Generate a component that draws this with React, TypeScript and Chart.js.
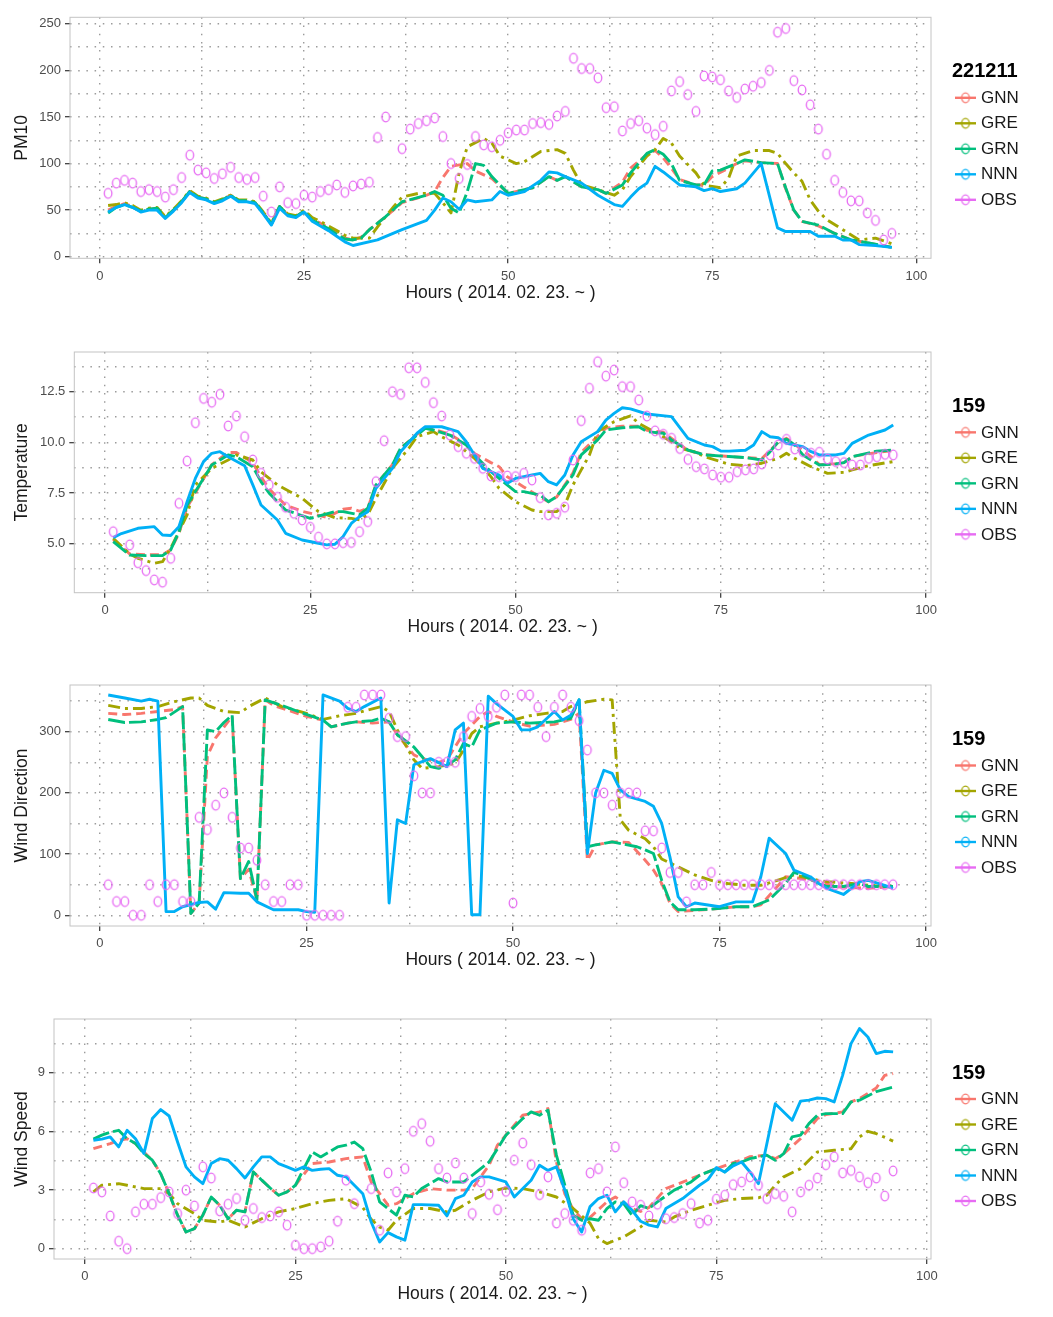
import React, { useEffect, useRef } from 'react';
import { Chart, registerables } from 'chart.js';
Chart.register(...registerables);

type Pt = [number, number];

const SERIES = ['GNN', 'GRE', 'GRN', 'NNN', 'OBS'];
const COLORS = ['#F8766D', '#A3A500', '#00BF7D', '#00B0F6', '#E76BF3'];
const DASHES = [[9, 5], [12, 5, 3, 5], [17, 4], []];
const X_TICKS = [0, 25, 50, 75, 100];
const X_TITLE = 'Hours ( 2014. 02. 23. ~ )';
const Y_TITLES = ['PM10', 'Temperature', 'Wind Direction', 'Wind Speed'];
const LEGEND_TITLES = ['221211', '159', '159', '159'];
const PM10_TICKS = [0, 50, 100, 150, 200, 250];
const TEMP_TICKS = [5, 7.5, 10, 12.5];
const WD_TICKS = [0, 100, 200, 300];
const WS_TICKS = [0, 3, 6, 9];

// ---------- PM10 ----------
const PM10_OBS = [68,79,82,79,70,72,70,64,72,85,109,93,90,84,89,96,85,83,85,65,48,75,58,57,66,64,70,72,77,69,76,78,80,128,150,null,116,137,143,146,149,129,100,84,99,129,120,118,125,133,136,136,143,144,142,151,156,213,202,202,192,160,161,135,143,146,138,131,140,178,188,174,156,194,193,190,178,171,180,183,187,200,241,245,189,179,163,137,110,82,69,60,60,47,39,18,25];
const PM10_GNN: Pt[] = [[1,50],[2,54],[3,57],[4,54],[5,49],[6,51],[7,52],[8,42],[9,50],[10,59],[11,70],[12,64],[13,62],[14,58],[15,61],[16,66],[17,60],[18,60],[19,58],[20,47],[21,35],[22,54],[23,45],[24,43],[25,49],[26,40],[27,36],[28,31],[29,25],[30,20],[31,18],[32,21],[33,29],[35,43],[37,58],[40,66],[41,70],[42,85],[43,97],[45,100],[46,92],[48,84],[50,68],[52,72],[53,74],[55,86],[56,82],[57,86],[59,75],[61,72],[62,68],[64,80],[65,95],[67,110],[68,114],[69,106],[70,95],[71,83],[73,77],[74,77],[75,86],[77,95],[78,100],[79,103],[81,101],[83,100],[84,73],[85,50],[86,38],[88,33],[90,25],[92,18],[94,15],[97,10]];
const PM10_GRE: Pt[] = [[1,55],[2,56],[3,58],[4,55],[5,50],[6,52],[7,53],[8,43],[9,51],[10,60],[11,71],[12,65],[13,63],[14,59],[15,62],[16,66],[17,61],[18,61],[19,59],[20,48],[21,36],[22,54],[23,46],[24,44],[25,50],[26,42],[27,38],[28,33],[29,28],[30,23],[31,20],[33,20],[34,32],[36,54],[37,64],[39,68],[41,68],[42,58],[43,47],[44,90],[45,118],[47,127],[48,122],[49,108],[51,100],[52,102],[54,113],[56,115],[57,111],[58,93],[59,77],[61,72],[63,66],[64,72],[65,86],[67,108],[68,115],[69,127],[70,122],[71,108],[73,90],[74,77],[76,74],[77,84],[78,108],[80,114],[82,114],[83,111],[84,100],[85,90],[86,81],[87,61],[88,49],[89,40],[91,29],[93,18],[95,20],[97,14]];
const PM10_GRN: Pt[] = [[1,47],[2,53],[3,56],[4,53],[5,49],[6,51],[7,52],[8,42],[9,50],[10,59],[11,70],[12,64],[13,62],[14,58],[15,61],[16,66],[17,60],[18,60],[19,58],[20,47],[21,35],[22,54],[23,45],[24,43],[25,49],[26,39],[27,35],[28,30],[29,24],[30,19],[31,18],[32,20],[33,29],[35,43],[37,59],[40,66],[41,70],[42,66],[43,52],[44,47],[45,70],[46,100],[47,98],[48,86],[49,77],[50,68],[52,72],[53,74],[55,86],[56,82],[57,86],[59,75],[61,72],[62,68],[64,77],[65,90],[67,111],[68,115],[69,110],[70,100],[71,82],[73,77],[74,77],[75,92],[76,93],[78,100],[79,104],[81,101],[83,100],[84,74],[85,50],[86,38],[88,34],[90,25],[92,18],[94,15],[97,10]];
const PM10_NNN: Pt[] = [[1,48],[2,53],[3,56],[4,53],[5,48],[6,50],[7,50],[8,41],[9,49],[10,58],[11,69],[12,63],[13,61],[14,57],[15,60],[16,65],[17,59],[18,59],[19,57],[20,46],[21,34],[22,52],[23,44],[24,42],[25,48],[26,38],[27,33],[28,28],[29,22],[30,16],[31,12],[34,18],[37,29],[40,39],[41,50],[42,63],[43,59],[44,51],[45,61],[46,59],[48,61],[49,70],[50,66],[52,70],[54,82],[55,91],[56,90],[57,86],[59,79],[61,66],[63,56],[64,54],[65,64],[66,73],[67,79],[68,97],[69,91],[71,77],[73,75],[74,71],[75,73],[76,70],[78,73],[79,79],[81,100],[83,31],[84,27],[87,27],[88,22],[90,22],[91,18],[92,18],[93,13],[95,12],[97,10]];

// ---------- Temperature ----------
const TEMP_OBS = [5.59,null,4.94,4.06,3.67,3.21,3.1,4.28,6.99,9.08,10.97,12.17,11.98,12.37,10.81,11.3,10.28,9.13,8.47,7.9,7.29,6.8,6.5,6.17,5.81,5.32,4.99,4.99,5.05,5.06,5.59,6.09,8.06,10.08,12.5,12.37,13.68,13.68,12.96,11.96,11.3,10.36,9.79,9.46,9.21,8.72,8.34,8.31,8.34,8.31,8.47,8.14,7.27,6.42,6.5,6.8,9.13,11.07,12.67,13.98,13.27,13.57,12.75,12.75,12.09,11.3,10.57,10.4,10.2,9.7,9.16,8.8,8.69,8.39,8.28,8.28,8.55,8.64,8.69,8.93,9.38,9.87,10.15,9.67,9.54,9.46,9.51,9.18,9.05,9.0,8.88,8.88,9.21,9.29,9.41,9.38];
const TEMP_GNN: Pt[] = [[1,5.2],[3,4.5],[5,4.45],[7,4.45],[8,4.7],[9,5.5],[10,6.8],[12,8.2],[13,8.9],[15,9.5],[16,9.5],[18,9.0],[19,8.3],[20,7.7],[21,7.3],[22,6.9],[24,6.6],[26,6.4],[27,6.3],[29,6.7],[30,6.75],[31,6.6],[32,6.75],[33,7.9],[35,8.9],[36,9.7],[38,10.4],[39,10.7],[40,10.65],[42,10.4],[44,9.9],[45,9.45],[47,9.0],[48,8.8],[49,8.3],[51,7.8],[53,7.3],[54,7.07],[55,7.3],[57,8.5],[58,9.5],[60,10.3],[61,10.7],[63,10.8],[65,10.8],[66,10.6],[68,10.5],[69,10.2],[70,9.9],[71,9.6],[73,9.4],[76,9.3],[78,9.25],[80,9.2],[81,9.6],[82,10.0],[83,10.2],[84,9.9],[86,9.3],[87,8.9],[89,8.95],[90,9.0],[91,9.3],[94,9.5],[96,9.6]];
const TEMP_GRE: Pt[] = [[1,5.27],[3,4.5],[4,4.28],[6,4.03],[7,4.11],[8,4.77],[10,6.42],[11,7.9],[13,8.72],[15,9.13],[16,9.38],[18,9.13],[19,8.55],[21,7.9],[24,7.24],[26,6.58],[28,6.28],[30,6.25],[31,6.17],[32,6.42],[33,7.24],[35,8.72],[37,9.71],[38,10.28],[40,10.53],[41,10.28],[43,9.87],[45,9.21],[47,8.31],[48,7.73],[50,7.07],[52,6.66],[53,6.58],[55,6.58],[56,6.91],[57,7.9],[59,9.38],[60,10.53],[62,11.02],[64,11.31],[65,10.94],[67,10.5],[69,10.03],[70,9.71],[72,9.51],[73,9.29],[76,8.92],[78,8.85],[80,8.97],[82,9.21],[83,9.46],[84,9.21],[86,8.8],[88,8.47],[90,8.52],[91,8.64],[93,8.85],[96,9.05]];
const TEMP_GRN: Pt[] = [[1,5.1],[3,4.44],[5,4.41],[7,4.41],[8,4.69],[9,5.59],[10,6.91],[12,8.22],[13,8.88],[15,9.38],[16,9.29],[18,8.8],[19,8.06],[20,7.49],[21,7.07],[22,6.66],[25,6.25],[28,6.58],[29,6.58],[31,6.42],[32,6.75],[33,7.9],[35,8.88],[36,9.71],[38,10.36],[39,10.69],[40,10.61],[42,10.36],[44,9.87],[45,9.38],[47,8.55],[48,8.22],[50,7.57],[51,7.57],[53,7.4],[54,7.07],[55,7.32],[57,8.39],[58,9.38],[60,10.12],[61,10.61],[63,10.72],[65,10.77],[66,10.53],[68,10.45],[69,10.12],[70,9.87],[71,9.62],[73,9.38],[76,9.3],[78,9.25],[80,9.13],[81,9.54],[82,10.03],[83,10.16],[84,9.87],[85,9.38],[87,8.88],[89,8.93],[90,9.0],[91,9.29],[94,9.57],[96,9.62]];
const TEMP_NNN: Pt[] = [[1,5.3],[2,5.5],[4,5.76],[6,5.84],[7,5.43],[8,5.4],[9,5.84],[10,7.07],[11,8.22],[12,9.05],[13,9.46],[14,9.54],[15,9.29],[17,8.85],[18,7.9],[19,6.91],[21,6.17],[22,5.51],[24,5.18],[26,5.02],[27,4.94],[28,4.97],[29,5.35],[30,6.0],[31,6.33],[32,6.58],[33,7.73],[35,8.72],[36,9.54],[38,10.45],[39,10.77],[41,10.77],[43,10.53],[44,10.03],[45,9.38],[46,8.72],[48,8.39],[49,7.98],[50,8.22],[52,8.39],[53,8.47],[54,8.06],[55,7.9],[56,8.39],[57,9.38],[58,10.03],[60,10.53],[61,11.1],[62,11.43],[63,11.71],[64,11.65],[66,11.4],[69,11.27],[71,10.2],[73,9.87],[74,9.79],[75,9.57],[76,9.57],[78,9.61],[79,9.87],[80,10.53],[81,10.28],[82,10.23],[83,9.95],[85,9.79],[86,9.54],[87,9.38],[89,9.38],[90,9.46],[91,9.95],[93,10.36],[95,10.61],[96,10.86]];

// ---------- Wind Direction ----------
const WD_OBS = [50,22.5,22.5,0,0,50,22.5,50,50,22.5,22.5,160,140,180,200,160,110,110,90,50,22.5,22.5,50,50,0,0,0,0,0,340,340,360,360,360,322,292,292,228,200,200,250,250,250,292,325,338,325,340,360,20,360,360,340,292,340,360,340,318,270,200,200,180,200,200,200,138,138,110,70,70,22,50,50,70,50,50,50,50,50,50,50,50,50,50,50,50,50,50,50,50,50,50,50,50,50,50];
const WD_GNN: Pt[] = [[1,330],[3,328],[5,330],[7,333],[9,336],[10,341],[11,3],[12,20],[13,260],[14,290],[16,325],[17,60],[18,75],[19,25],[20,352],[21,343],[23,334],[25,325],[27,319],[28,308],[30,314],[31,316],[33,314],[35,316],[36,295],[38,262],[39,256],[41,250],[42,254],[44,297],[46,325],[47,333],[48,325],[50,316],[52,309],[55,312],[57,320],[58,330],[59,90],[60,115],[62,120],[64,119],[66,90],[67,74],[68,52],[69,20],[70,6],[72,8],[74,10],[77,14],[79,14],[80,17],[82,47],[83,63],[85,60],[87,55],[89,47],[93,44],[96,47]];
const WD_GRE: Pt[] = [[1,343],[3,338],[5,338],[7,341],[9,349],[11,355],[12,355],[13,343],[15,333],[17,331],[18,341],[20,355],[22,341],[25,330],[27,320],[29,326],[31,330],[32,334],[34,341],[35,333],[36,303],[37,278],[38,254],[39,240],[41,243],[43,248],[44,270],[45,297],[46,308],[48,314],[50,319],[52,326],[54,330],[56,333],[57,341],[59,349],[61,353],[62,352],[63,156],[64,139],[66,125],[67,112],[68,92],[70,79],[72,66],[74,57],[76,52],[78,49],[80,49],[82,57],[84,66],[85,63],[87,57],[88,55],[91,52],[93,49],[95,47],[96,47]];
const WD_GRN: Pt[] = [[1,320],[3,315],[5,316],[7,320],[8,323],[10,341],[11,3],[12,20],[13,303],[14,300],[15,315],[16,327],[17,60],[18,88],[19,25],[20,352],[22,343],[24,333],[27,319],[28,308],[30,314],[31,316],[33,318],[34,322],[35,316],[36,295],[38,275],[39,259],[40,243],[41,240],[42,245],[43,254],[44,281],[45,275],[46,303],[48,314],[50,316],[52,314],[55,316],[57,322],[58,352],[59,112],[60,115],[62,120],[65,112],[66,107],[67,101],[68,57],[69,22],[70,9],[72,9],[74,10],[77,14],[79,14],[81,25],[83,52],[84,70],[85,66],[87,52],[88,47],[90,47],[92,52],[93,47],[96,47]];
const WD_NNN: Pt[] = [[1,360],[3,355],[5,350],[6,353],[7,350],[8,6],[9,6],[10,14],[12,21],[13,22],[14,10],[15,37],[17,36],[18,36],[19,22],[21,9],[23,9],[24,9],[25,6],[26,5],[27,360],[29,350],[30,338],[31,333],[32,341],[34,355],[35,20],[36,156],[37,150],[38,246],[39,251],[40,256],[42,243],[43,303],[44,314],[45,1],[46,1],[47,358],[48,346],[50,325],[51,303],[52,303],[53,308],[55,333],[56,319],[57,327],[58,352],[59,101],[60,200],[61,237],[62,232],[63,205],[64,194],[66,186],[67,178],[68,150],[69,95],[70,30],[71,14],[72,20],[75,14],[77,22],[79,22],[80,63],[81,126],[83,101],[84,74],[86,63],[87,52],[88,44],[90,34],[92,55],[93,57],[95,49],[96,44]];

// ---------- Wind Speed ----------
const WS_OBS = [3.1,2.9,1.67,0.38,0,1.88,2.27,2.27,2.61,2.9,1.79,2.99,2.18,4.18,3.61,1.93,2.27,2.56,1.45,2.05,1.59,1.67,1.88,1.2,0.17,0,0,0.09,0.38,1.4,3.5,2.3,null,3.07,0.94,3.87,2.9,4.09,6.0,6.39,5.49,4.09,3.61,4.38,3.61,1.79,3.41,2.78,1.99,2.93,4.52,5.4,4.29,2.76,3.67,1.31,1.79,1.45,0.94,3.87,4.09,2.9,5.2,3.37,2.39,2.22,1.67,2.27,1.53,1.59,1.79,2.3,1.31,1.45,2.53,2.73,3.27,3.41,3.67,3.24,2.56,2.81,2.68,1.88,2.9,3.24,3.61,4.29,4.69,3.87,4.0,3.67,3.37,3.61,2.69,3.97];
const WS_GNN: Pt[] = [[1,5.11],[3,5.37],[4,5.54],[5,5.62],[6,5.37],[7,4.94],[8,4.52],[9,3.83],[10,2.81],[11,1.71],[12,0.85],[13,1.02],[14,1.71],[15,2.64],[16,2.22],[17,1.53],[18,1.96],[19,1.88],[20,3.92],[21,3.5],[22,3.1],[23,2.73],[24,2.9],[25,3.24],[26,3.8],[27,4.35],[29,4.43],[31,4.6],[33,4.69],[34,3.41],[36,2.22],[37,2.3],[39,2.81],[41,3.07],[43,2.99],[45,2.99],[46,3.07],[48,4.26],[49,5.29],[51,6.31],[52,6.82],[54,6.99],[55,7.16],[56,4.43],[57,2.8],[58,2.0],[59,1.53],[60,1.6],[61,2.0],[62,2.39],[63,2.64],[65,2.05],[66,1.9],[67,2.1],[69,3.07],[71,3.4],[73,3.75],[75,4.09],[77,4.4],[78,4.52],[79,4.7],[81,4.78],[82,4.6],[83,4.86],[85,5.62],[87,6.65],[88,6.85],[90,6.99],[91,7.5],[92,7.67],[94,8.21],[95,8.86],[96,8.95]];
const WS_GRE: Pt[] = [[1,2.9],[2,3.24],[4,3.32],[5,3.24],[7,3.07],[9,3.07],[10,2.81],[11,2.3],[13,1.79],[14,1.45],[16,1.36],[17,1.45],[19,1.11],[21,1.53],[23,1.88],[25,2.05],[27,2.3],[29,2.47],[31,2.55],[33,2.1],[34,1.5],[35,1.1],[36,0.94],[37,1.45],[39,2.05],[41,2.05],[43,1.88],[44,1.96],[46,2.47],[48,2.9],[50,3.1],[52,3.07],[54,2.9],[56,2.64],[58,2.05],[60,1.3],[61,0.51],[62,0.26],[64,0.6],[66,1.11],[67,1.45],[69,1.36],[70,1.62],[72,1.96],[74,2.22],[76,2.47],[78,2.56],[80,2.6],[81,2.73],[82,3.24],[83,3.67],[85,4.09],[86,4.52],[87,4.94],[89,5.03],[91,5.11],[92,5.71],[93,6.0],[94,5.88],[96,5.5]];
const WS_GRN: Pt[] = [[1,5.6],[2,5.8],[3,5.95],[4,6.05],[5,5.62],[6,5.37],[7,4.86],[8,4.52],[9,3.83],[10,2.81],[11,1.71],[12,0.85],[13,1.02],[14,1.71],[15,2.64],[16,2.22],[17,1.53],[18,1.96],[19,1.88],[20,3.92],[21,3.5],[22,3.1],[23,2.73],[24,2.9],[25,3.24],[26,4.09],[27,4.94],[28,4.69],[29,4.94],[30,5.2],[31,5.29],[32,5.45],[33,5.11],[34,3.92],[35,2.39],[36,2.05],[37,1.71],[38,2.73],[39,2.64],[40,3.07],[42,3.58],[43,3.41],[45,3.41],[46,3.75],[48,4.43],[49,5.11],[50,5.8],[52,6.65],[53,6.99],[54,6.82],[55,7.08],[56,4.78],[57,3.24],[58,1.71],[59,1.45],[60,1.53],[61,1.45],[62,2.05],[63,2.39],[64,2.3],[65,1.7],[66,2.2],[67,2.05],[68,2.39],[70,2.99],[72,3.41],[73,3.75],[75,4.09],[76,3.92],[77,4.35],[78,4.43],[79,4.6],[81,4.78],[82,4.52],[83,4.86],[84,5.71],[85,5.8],[86,6.39],[87,6.82],[88,6.9],[90,6.9],[91,7.5],[92,7.59],[94,8.03],[96,8.26]];
const WS_NNN: Pt[] = [[1,5.54],[2,5.6],[3,5.71],[4,5.2],[5,6.05],[6,5.62],[7,4.86],[8,6.65],[9,7.11],[10,6.78],[11,5.45],[12,4.18],[13,3.67],[14,3.32],[15,4.35],[16,4.6],[17,4.52],[18,4.09],[19,3.61],[20,4.18],[21,4.69],[22,4.69],[23,4.35],[24,4.18],[25,4.0],[26,4.18],[27,4.0],[28,4.06],[29,4.09],[30,3.75],[31,3.67],[33,2.81],[34,1.36],[35,0.34],[36,0.82],[37,0.6],[38,0.43],[39,2.25],[40,2.25],[42,2.22],[43,1.67],[44,2.56],[45,2.73],[46,3.41],[47,3.67],[48,3.67],[50,3.41],[51,2.64],[53,3.5],[54,4.26],[55,4.0],[56,4.18],[57,3.0],[58,1.53],[59,0.85],[60,2.15],[61,2.56],[62,2.73],[63,1.88],[64,2.39],[65,1.96],[66,1.4],[67,1.2],[68,1.11],[69,2.05],[71,2.56],[73,3.24],[74,3.53],[75,4.14],[76,3.92],[77,4.23],[78,4.43],[79,3.92],[80,3.32],[82,7.41],[84,6.56],[85,7.54],[86,7.59],[87,7.7],[88,7.67],[89,7.5],[90,8.86],[91,10.48],[92,11.25],[93,10.82],[94,9.97],[95,10.09],[96,10.06]];

// ---------- layout (pixel geometry of each panel) ----------
const PANELS = [
  { Y0: 0, H: 320, T: 17.3, B: 258.3, L: 70, R: 931, xMin: -3.67, xMax: 101.8, yMin: -1.7, yMax: 257, titleY: 293, yTicks: PM10_TICKS, dec: 0, lines: [PM10_GNN, PM10_GRE, PM10_GRN, PM10_NNN], obs: PM10_OBS },
  { Y0: 335, H: 320, T: 352, B: 592.7, L: 74.3, R: 931, xMin: -3.74, xMax: 100.6, yMin: 2.58, yMax: 14.46, titleY: 627, yTicks: TEMP_TICKS, dec: 1, lines: [TEMP_GNN, TEMP_GRE, TEMP_GRN, TEMP_NNN], obs: TEMP_OBS },
  { Y0: 668, H: 320, T: 685, B: 926, L: 70, R: 931, xMin: -3.63, xMax: 100.6, yMin: -17.5, yMax: 376.3, titleY: 960, yTicks: WD_TICKS, dec: 0, lines: [WD_GNN, WD_GRE, WD_GRN, WD_NNN], obs: WD_OBS },
  { Y0: 1002, H: 315, T: 1019, B: 1259, L: 54, R: 931, xMin: -3.68, xMax: 100.5, yMin: -0.53, yMax: 11.74, titleY: 1294, yTicks: WS_TICKS, dec: 0, lines: [WS_GNN, WS_GRE, WS_GRN, WS_NNN], obs: WS_OBS },
];

const FONT = '"Liberation Sans", Arial, Helvetica, sans-serif';
const GRID = 'rgba(150,150,150,0.95)';
const TITLE_SIZE = 17.5;

function makeMark(color: string) {
  const c = document.createElement('canvas');
  c.width = 12; c.height = 14;
  const g = c.getContext('2d')!;
  g.strokeStyle = color; g.lineWidth = 1.3;
  g.beginPath(); g.ellipse(6, 7, 3.8, 4.9, 0, 0, Math.PI * 2); g.stroke();
  return c;
}

function allTicks(major: number[], lo: number, hi: number) {
  const half = (major[1] - major[0]) / 2;
  let v = major[0];
  while (v - half >= lo) v -= half;
  const out: number[] = [];
  for (; v <= hi + 1e-9; v += half) out.push(Math.round(v * 1000) / 1000);
  return out;
}
const isIn = (arr: number[], v: number) => arr.some((a) => Math.abs(a - v) < 1e-6);

function makeDecor(title: string, marks: HTMLCanvasElement[]) {
  return {
    id: 'panelDecor',
    beforeDatasetsDraw(chart: any) {
      const { ctx, chartArea: a } = chart;
      ctx.save();
      ctx.strokeStyle = '#c4c4c4'; ctx.lineWidth = 1; ctx.setLineDash([]);
      ctx.strokeRect(a.left, a.top, a.right - a.left, a.bottom - a.top);
      ctx.restore();
    },
    afterDraw(chart: any) {
      const { ctx, chartArea: a } = chart;
      const cy = (a.top + a.bottom) / 2;
      ctx.save();
      ctx.textBaseline = 'middle'; ctx.textAlign = 'left';
      ctx.fillStyle = '#000';
      ctx.font = `bold 20px ${FONT}`;
      ctx.fillText(title, 952, cy - 66);
      SERIES.forEach((name, i) => {
        const y = cy - 40 + 25.5 * i;
        ctx.strokeStyle = COLORS[i]; ctx.lineWidth = 2.4; ctx.setLineDash([]);
        ctx.beginPath(); ctx.moveTo(955, y); ctx.lineTo(976, y); ctx.stroke();
        ctx.drawImage(marks[i], 965.5 - 6, y - 7);
        ctx.fillStyle = '#1a1a1a';
        ctx.font = `17px ${FONT}`;
        ctx.fillText(name, 981, y + 0.5);
      });
      ctx.restore();
    },
  };
}

function buildConfig(idx: number) {
  const p = PANELS[idx];
  const marks = COLORS.map((c) => makeMark(c));
  const xAll = allTicks(X_TICKS, p.xMin, p.xMax);
  const yAll = allTicks(p.yTicks, p.yMin, p.yMax);
  const datasets: any[] = p.lines.map((pts, i) => ({
    type: 'line',
    label: SERIES[i],
    data: pts.map(([x, y]) => ({ x, y })),
    borderColor: COLORS[i],
    backgroundColor: COLORS[i],
    borderWidth: 2.9,
    borderDash: DASHES[i],
    borderCapStyle: 'butt',
    borderJoinStyle: 'round',
    pointRadius: 0,
    pointHoverRadius: 0,
    tension: 0,
    fill: false,
    order: 4 - i,
  }));
  datasets.push({
    type: 'line',
    label: SERIES[4],
    data: p.obs.map((v, k) => ({ x: k + 1, y: v })),
    showLine: false,
    pointStyle: marks[4],
    pointRadius: 4,
    pointHoverRadius: 4,
    borderColor: COLORS[4],
    backgroundColor: 'transparent',
    order: 0,
  });
  const tickColor = (list: number[]) => (c: any) =>
    c.tick && isIn(list, c.tick.value) ? '#333333' : 'rgba(0,0,0,0)';
  return {
    type: 'line',
    data: { datasets },
    options: {
      responsive: false,
      animation: false,
      devicePixelRatio: 1,
      events: [],
      layout: { padding: { left: 8, right: 1053 - p.R, top: p.T - p.Y0, bottom: 0 } },
      plugins: { legend: { display: false }, tooltip: { enabled: false } },
      scales: {
        x: {
          type: 'linear',
          min: p.xMin,
          max: p.xMax,
          bounds: 'data',
          afterBuildTicks: (s: any) => { s.ticks = xAll.map((v) => ({ value: v })); },
          afterFit: (s: any) => { s.height = p.Y0 + p.H - p.B; },
          ticks: {
            autoSkip: false, maxRotation: 0, padding: 5, color: '#4d4d4d',
            font: { family: FONT, size: 13 },
            callback: (v: number) => (isIn(X_TICKS, v) ? String(v) : ''),
          },
          grid: { color: GRID, lineWidth: 1.4, tickLength: 5, tickWidth: 1.2, tickColor: tickColor(X_TICKS) },
          border: { display: false, dash: [1.5, 6.7] },
          title: {
            display: true, text: X_TITLE, color: '#1a1a1a',
            font: { family: FONT, size: TITLE_SIZE },
            padding: { top: 0, bottom: p.Y0 + p.H - p.titleY - TITLE_SIZE * 0.6 },
          },
        },
        y: {
          type: 'linear',
          min: p.yMin,
          max: p.yMax,
          bounds: 'data',
          afterBuildTicks: (s: any) => { s.ticks = yAll.map((v) => ({ value: v })); },
          afterFit: (s: any) => { s.width = p.L - 8; },
          ticks: {
            autoSkip: false, padding: 4, color: '#4d4d4d',
            font: { family: FONT, size: 13 },
            callback: (v: number) => (isIn(p.yTicks, v) ? v.toFixed(p.dec) : ''),
          },
          grid: { color: GRID, lineWidth: 1.4, tickLength: 5, tickWidth: 1.2, tickColor: tickColor(p.yTicks) },
          border: { display: false, dash: [1.5, 6.7] },
          title: {
            display: true, text: Y_TITLES[idx], color: '#1a1a1a',
            font: { family: FONT, size: TITLE_SIZE },
            padding: { top: 22 - 8 - TITLE_SIZE * 0.6, bottom: 0 },
          },
        },
      },
    },
    plugins: [makeDecor(LEGEND_TITLES[idx], marks)],
  };
}

function Panel({ idx }: { idx: number }) {
  const ref = useRef<HTMLCanvasElement>(null);
  const p = PANELS[idx];
  useEffect(() => {
    const chart = new Chart(ref.current as HTMLCanvasElement, buildConfig(idx) as any);
    return () => chart.destroy();
  }, [idx]);
  return (
    <canvas
      ref={ref}
      width={1053}
      height={p.H}
      style={{ position: 'absolute', left: 0, top: p.Y0, width: 1053, height: p.H }}
    />
  );
}

export default function App() {
  return (
    <div style={{ position: 'absolute', left: 0, top: 0, width: 1053, height: 1317, background: '#fff', overflow: 'hidden' }}>
      {PANELS.map((_, i) => (
        <Panel key={i} idx={i} />
      ))}
    </div>
  );
}
